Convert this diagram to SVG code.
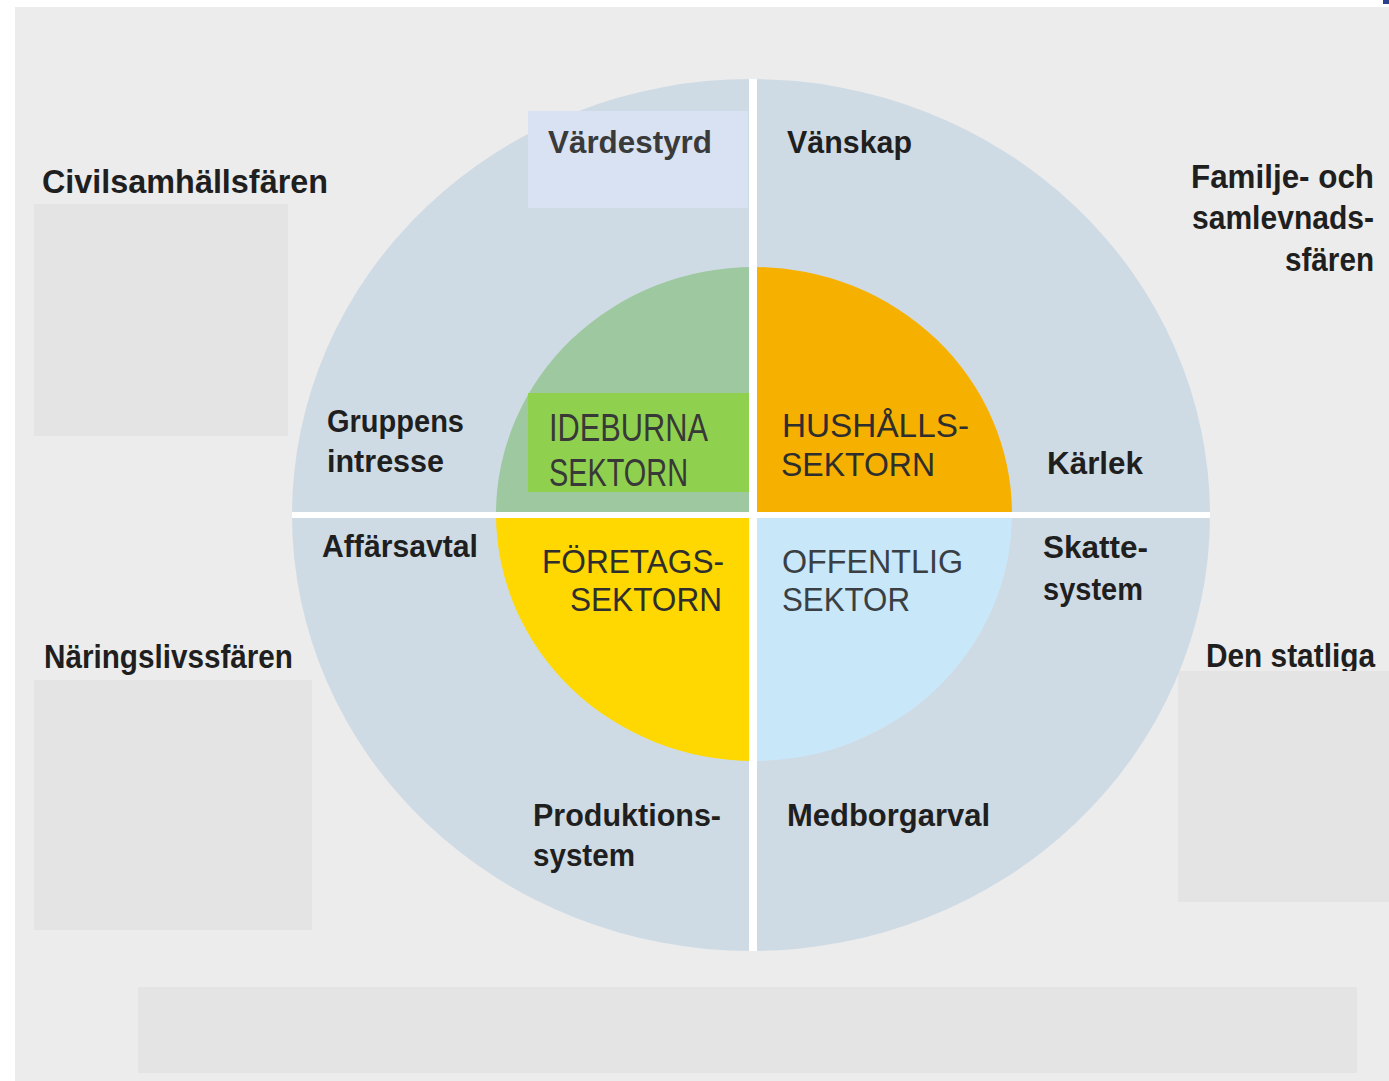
<svg xmlns="http://www.w3.org/2000/svg" width="1389" height="1081" viewBox="0 0 1389 1081">
<defs>
<style>
.lbl{font-family:"Liberation Sans",Arial,sans-serif;font-weight:bold;font-size:31px;fill:#1f1f1f}
.sph{font-size:33px}
.sec{font-family:"Liberation Sans",Arial,sans-serif;font-weight:normal;font-size:33px;fill:#2e2e2e}
.box{fill:#e4e4e4}
</style>
<clipPath id="outerClip"><ellipse cx="751" cy="515" rx="459" ry="436"/></clipPath>
</defs>
<rect x="0" y="0" width="1389" height="1081" fill="#ffffff"/>
<rect x="15" y="7" width="1374" height="1074" fill="#ececec"/>
<rect x="1383" y="0" width="6" height="4" fill="#2b3f8f"/>

<g id="civilsamhallsfaren">
<text class="lbl sph" x="42" y="193" textLength="286" lengthAdjust="spacingAndGlyphs">Civilsamhällsfären</text>
<rect class="box" x="34" y="204" width="254" height="232"/>
</g>
<g id="naringslivssfaren">
<text class="lbl sph" x="44" y="668" textLength="249" lengthAdjust="spacingAndGlyphs">Näringslivssfären</text>
<rect class="box" x="34" y="680" width="278" height="250"/>
</g>
<g id="familjesfaren">
<text class="lbl sph" x="1191" y="188" textLength="183" lengthAdjust="spacingAndGlyphs">Familje- och</text>
<text class="lbl sph" x="1192" y="229" textLength="182" lengthAdjust="spacingAndGlyphs">samlevnads-</text>
<text class="lbl sph" x="1285" y="271" textLength="89" lengthAdjust="spacingAndGlyphs">sfären</text>
</g>
<g id="statliga">
<text class="lbl sph" x="1206" y="667" textLength="169" lengthAdjust="spacingAndGlyphs">Den statliga</text>
<rect class="box" x="1178" y="671" width="211" height="231"/>
</g>
<g id="bottom-box">
<rect class="box" x="138" y="987" width="1219" height="86"/>
</g>

<g id="ring">
<ellipse cx="751" cy="515" rx="459" ry="436" fill="#cfdbe4"/>
<rect x="528" y="111" width="220" height="97" fill="#d8e2f2"/>
</g>

<g id="ideburna">
<path d="M754 514 L496 514 A258 247 0 0 1 754 267 Z" fill="#9dc8a0"/>
<rect x="528" y="393" width="221" height="99" fill="#8fd14f"/>
<text class="sec" x="549" y="441" style="font-size:38px;fill:#383838" textLength="159" lengthAdjust="spacingAndGlyphs">IDEBURNA</text>
<text class="sec" x="549" y="486" style="font-size:38px;fill:#383838" textLength="139" lengthAdjust="spacingAndGlyphs">SEKTORN</text>
</g>
<g id="hushall">
<path d="M754 514 L754 267 A258 247 0 0 1 1012 514 Z" fill="#f6b100"/>
<text class="sec" x="782" y="437" textLength="187" lengthAdjust="spacingAndGlyphs">HUSHÅLLS-</text>
<text class="sec" x="781" y="476" textLength="154" lengthAdjust="spacingAndGlyphs">SEKTORN</text>
</g>
<g id="foretag">
<path d="M754 514 L754 761 A258 247 0 0 1 496 514 Z" fill="#fed800"/>
<text class="sec" x="542" y="573" textLength="182" lengthAdjust="spacingAndGlyphs">FÖRETAGS-</text>
<text class="sec" x="570" y="611" textLength="152" lengthAdjust="spacingAndGlyphs">SEKTORN</text>
</g>
<g id="offentlig">
<path d="M754 514 L1012 514 A258 247 0 0 1 754 761 Z" fill="#c8e8fa"/>
<text class="sec" x="782" y="573" style="fill:#3a3f44" textLength="181" lengthAdjust="spacingAndGlyphs">OFFENTLIG</text>
<text class="sec" x="782" y="611" style="fill:#3a3f44" textLength="128" lengthAdjust="spacingAndGlyphs">SEKTOR</text>
</g>

<g id="connectors" clip-path="url(#outerClip)">
<rect x="749" y="70" width="8" height="890" fill="#ffffff"/>
<rect x="280" y="512" width="940" height="6" fill="#ffffff"/>
</g>

<g id="ring-labels">
<text class="lbl" x="548" y="153" style="font-size:32px;fill:#3a3a3a" textLength="164" lengthAdjust="spacingAndGlyphs">Värdestyrd</text>
<text class="lbl" x="787" y="153" style="font-size:32px" textLength="125" lengthAdjust="spacingAndGlyphs">Vänskap</text>
<text class="lbl" x="327" y="432" textLength="137" lengthAdjust="spacingAndGlyphs">Gruppens</text>
<text class="lbl" x="327" y="472" textLength="117" lengthAdjust="spacingAndGlyphs">intresse</text>
<text class="lbl" x="1047" y="474" textLength="96" lengthAdjust="spacingAndGlyphs">Kärlek</text>
<text class="lbl" x="322" y="557" textLength="156" lengthAdjust="spacingAndGlyphs">Affärsavtal</text>
<text class="lbl" x="1043" y="558" textLength="105" lengthAdjust="spacingAndGlyphs">Skatte-</text>
<text class="lbl" x="1043" y="600" textLength="100" lengthAdjust="spacingAndGlyphs">system</text>
<text class="lbl" x="533" y="826" textLength="188" lengthAdjust="spacingAndGlyphs">Produktions-</text>
<text class="lbl" x="533" y="866" textLength="102" lengthAdjust="spacingAndGlyphs">system</text>
<text class="lbl" x="787" y="826" textLength="203" lengthAdjust="spacingAndGlyphs">Medborgarval</text>
</g>
</svg>
